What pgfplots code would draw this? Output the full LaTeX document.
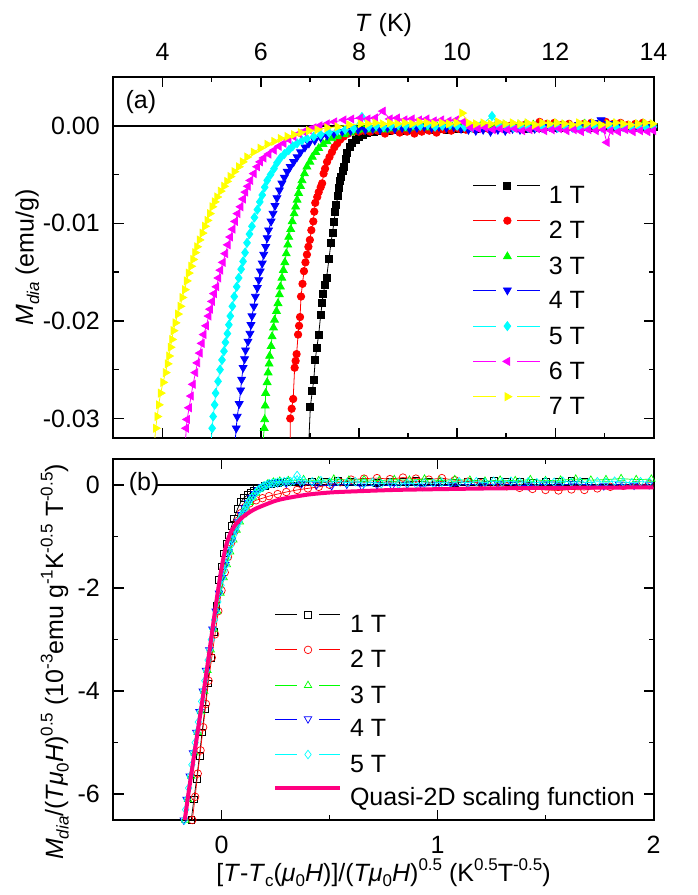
\documentclass[border=0pt]{standalone}
\usepackage{fontspec}
\setmainfont{Liberation Sans}
\usepackage{pgfplots}
\pgfplotsset{compat=1.18}
\definecolor{qpink}{RGB}{255,0,128}
\definecolor{cR}{RGB}{255,0,0}
\definecolor{cG}{RGB}{0,255,0}
\definecolor{cB}{RGB}{0,0,255}
\definecolor{cC}{RGB}{0,255,255}
\definecolor{cM}{RGB}{255,0,255}
\definecolor{cY}{RGB}{255,255,0}
\newcommand{\fs}{\fontsize{25}{29}\selectfont}
\newcommand{\sbs}[1]{\raisebox{-0.22em}{\fontsize{17}{17}\selectfont #1}}
\newcommand{\sps}[1]{\raisebox{0.42em}{\fontsize{17}{17}\selectfont #1}}
\pgfplotsset{
  myax/.style={scale only axis, width=540pt, height=361pt, anchor=south west,
    axis line style={line width=2pt},
    every tick/.style={black, line width=1.6pt},
    major tick length=10pt, minor tick length=5pt, tick align=inside,
    tick label style={font=\fs, inner sep=0pt},
    label style={font=\fs},
    scaled x ticks=false, scaled y ticks=false,
    legend cell align=left,
    clip mode=individual,
  }
}
\begin{document}
\begin{tikzpicture}
\path[use as bounding box] (0pt,0pt) rectangle (697pt,895pt);
%================ panel (a) =================
\begin{axis}[myax, at={(113.5pt,457pt)},
  xmin=3, xmax=14, ymin=-0.032, ymax=0.005,
  xtick={4,6,8,10,12,14}, xticklabels={4,6,8,10,12,14},
  minor xtick={3,5,7,9,11,13},
  ytick={-0.03,-0.02,-0.01,0}, yticklabels={-0.03,-0.02,-0.01,0.00},
  minor ytick={-0.025,-0.015,-0.005},
  xticklabel pos=upper,
  xticklabel style={anchor=base, yshift=16pt},
  yticklabel style={anchor=east, xshift=-13.5pt},
  xlabel={\textit{T} (K)},
  xlabel style={at={(axis description cs:0.5,1.1274)}, anchor=base},
  ylabel={\textit{M}\sbs{\textit{dia}} (emu/g)},
  ylabel style={at={(axis description cs:-0.148,0.5)}, anchor=base},
  legend style={at={(0.6657,0.709)}, anchor=north west, draw=none, fill=none,
    inner sep=0pt, outer sep=0pt, font=\fs, row sep=13.4pt, column sep=8pt,
    nodes={inner sep=0pt, text height=18pt, text depth=0pt}},
  legend image code/.code={%
    \draw[#1,mark=none] (0pt,9pt) -- (23pt,9pt);
    \draw[#1,mark=none] (44pt,9pt) -- (67pt,9pt);
    \draw[#1] plot coordinates {(34pt,9pt)};},
]
\addplot[black, line width=1.5pt, forget plot] coordinates {(3,0) (14,0)};
\addplot[black, line width=0.8pt, mark=square*, mark size=3.5pt, mark options={solid}] coordinates {
(6.98,-0.0322) (7.01,-0.0288) (7.05,-0.0272) (7.08,-0.026) (7.11,-0.024) (7.14,-0.0228) (7.18,-0.0214) (7.22,-0.0194) (7.25,-0.0182) (7.27,-0.0172) (7.31,-0.0163) (7.34,-0.0156) (7.39,-0.0136) (7.43,-0.012) (7.46,-0.011) (7.49,-0.0099) (7.52,-0.0088) (7.54,-0.0081) (7.57,-0.0072) (7.59,-0.0064) (7.62,-0.0057) (7.64,-0.0052) (7.67,-0.0046) (7.69,-0.0042) (7.73,-0.0034) (7.76,-0.0028) (7.81,-0.0022) (7.86,-0.0018) (7.93,-0.0014) (8.0,-0.0011) (8.08,-0.0009) (8.17,-0.0007) (8.3,-0.0006) (8.45,-0.0005) (8.6,-0.0005) (8.75,-0.0004) (8.9,-0.0005) (9.05,-0.0004) (9.2,-0.0004) (9.35,-0.0003) (9.5,-0.0004) (9.65,-0.0003) (9.8,-0.0004) (9.95,-0.0003) (10.1,-0.0003) (10.25,-0.0002) (10.4,-0.0003) (10.55,-0.0002) (10.7,-0.0003) (10.85,-0.0002) (11.0,-0.0003) (11.15,-0.0002) (11.3,-0.0002) (11.45,-0.0003) (11.6,-0.0002) (11.75,-0.0002) (11.9,-0.0001) (12.05,-0.0002) (12.2,-0.0002) (12.35,-0.0001) (12.5,-0.0002) (12.65,-0.0001) (12.8,-0.0002) (12.95,-0.0001) (13.1,-0.0001) (13.25,-0.0002) (13.4,-0.0001) (13.55,-0.0001) (13.7,-0.0002) (13.85,-0.0001) (14.0,-0.0001)};
\addlegendentry{1 T}
\addplot[cR, line width=0.8pt, mark=*, mark size=3.7pt, mark options={solid}] coordinates {
(6.60,-0.0322) (6.60,-0.030) (6.63,-0.029) (6.66,-0.028) (6.69,-0.0248) (6.71,-0.0241) (6.73,-0.0234) (6.76,-0.0214) (6.78,-0.0205) (6.80,-0.0196) (6.82,-0.0175) (6.85,-0.0162) (6.88,-0.0149) (6.91,-0.014) (6.94,-0.0132) (6.97,-0.0124) (7.00,-0.0117) (7.03,-0.0107) (7.07,-0.0098) (7.09,-0.0088) (7.11,-0.0079) (7.15,-0.0073) (7.18,-0.0068) (7.22,-0.0063) (7.25,-0.0059) (7.28,-0.0049) (7.31,-0.0044) (7.35,-0.0037) (7.40,-0.0032) (7.45,-0.0027) (7.50,-0.0022) (7.56,-0.0018) (7.62,-0.0014) (7.69,-0.0011) (7.78,-0.0008) (7.89,-0.0006) (8.0,-0.0006) (8.1,-0.0005) (8.23,-0.0006) (8.38,-0.0005) (8.53,-0.0008) (8.68,-0.0005) (8.83,-0.0007) (8.98,-0.0006) (9.13,-0.0008) (9.28,-0.0006) (9.43,-0.0005) (9.58,-0.0007) (9.73,-0.0004) (9.88,-0.0005) (10.03,-0.0003) (10.18,-0.0004) (10.33,-0.0003) (10.48,-0.0002) (10.63,-0.0003) (10.78,-0.0001) (10.93,-0.0002) (11.08,0.0) (11.23,-0.0001) (11.38,0.0001) (11.53,0.0) (11.68,0.0004) (11.83,0.0002) (11.98,0.0003) (12.13,0.0001) (12.28,0.0002) (12.43,0.0) (12.58,0.0002) (12.73,0.0003) (12.88,0.0001) (13.03,0.0004) (13.18,0.0002) (13.33,0.0003) (13.48,0.0001) (13.63,0.0002) (13.78,0.0003) (13.93,0.0001)};
\addlegendentry{2 T}
\addplot[cG, line width=0.8pt, mark=triangle*, mark size=4.5pt, mark options={solid}] coordinates {
(6.05,-0.0322) (6.07,-0.0310) (6.08,-0.0301) (6.09,-0.0287) (6.10,-0.0274) (6.13,-0.0263) (6.15,-0.0253) (6.17,-0.0244) (6.18,-0.0236) (6.21,-0.0226) (6.23,-0.0216) (6.26,-0.0207) (6.28,-0.0199) (6.32,-0.019) (6.35,-0.0182) (6.38,-0.0173) (6.40,-0.0165) (6.43,-0.0156) (6.46,-0.0148) (6.49,-0.014) (6.52,-0.0131) (6.55,-0.0122) (6.57,-0.0114) (6.61,-0.0106) (6.64,-0.0098) (6.68,-0.009) (6.71,-0.0083) (6.74,-0.0076) (6.77,-0.0069) (6.81,-0.0062) (6.84,-0.0056) (6.89,-0.0049) (6.94,-0.0042) (7.0,-0.0037) (7.05,-0.0032) (7.12,-0.0027) (7.18,-0.0023) (7.27,-0.0019) (7.35,-0.0016) (7.45,-0.0013) (7.56,-0.0011) (7.7,-0.0009) (7.83,-0.0007) (7.96,-0.0005) (8.1,-0.0004) (8.25,-0.0004) (8.4,-0.0003) (8.55,-0.0004) (8.7,-0.0003) (8.85,-0.0002) (9.0,-0.0003) (9.15,-0.0002) (9.3,-0.0001) (9.45,-0.0002) (9.6,-0.0001) (9.75,0.0) (9.9,-0.0001) (10.05,0.0) (10.2,0.0001) (10.35,0.0) (10.5,0.0001) (10.65,0.0) (10.8,0.0002) (10.95,0.0001) (11.1,0.0) (11.25,0.0001) (11.4,0.0002) (11.55,0.0001) (11.7,0.0) (11.85,0.0001) (12.0,0.0002) (12.15,0.0001) (12.3,0.0) (12.45,0.0001) (12.6,0.0002) (12.75,0.0001) (12.9,0.0) (13.05,0.0001) (13.2,0.0002) (13.35,0.0001) (13.5,0.0) (13.65,0.0001) (13.8,0.0002) (13.95,0.0001)};
\addlegendentry{3 T}
\addplot[cB, line width=0.8pt, mark=triangle*, mark size=4.5pt, mark options={solid, rotate=180}] coordinates {
(5.48,-0.0322) (5.50,-0.031) (5.52,-0.0298) (5.56,-0.0285) (5.59,-0.0271) (5.61,-0.026) (5.64,-0.0248) (5.67,-0.0239) (5.69,-0.023) (5.74,-0.0221) (5.78,-0.0213) (5.80,-0.0204) (5.82,-0.0195) (5.86,-0.0185) (5.89,-0.0175) (5.93,-0.0166) (5.96,-0.0158) (5.99,-0.0149) (6.03,-0.0141) (6.06,-0.0132) (6.10,-0.0124) (6.13,-0.0115) (6.16,-0.0107) (6.21,-0.0098) (6.25,-0.009) (6.29,-0.0082) (6.33,-0.0074) (6.38,-0.0066) (6.43,-0.0059) (6.48,-0.0053) (6.54,-0.0047) (6.6,-0.0042) (6.67,-0.0037) (6.74,-0.0032) (6.81,-0.0027) (6.9,-0.0022) (6.98,-0.0018) (7.1,-0.0015) (7.22,-0.0012) (7.35,-0.001) (7.49,-0.0008) (7.66,-0.0006) (7.83,-0.0005) (7.98,-0.0004) (8.13,-0.0004) (8.28,-0.0003) (8.43,-0.0004) (8.58,-0.0002) (8.73,-0.0003) (8.88,-0.0002) (9.03,-0.0003) (9.18,-0.0002) (9.33,-0.0001) (9.48,-0.0002) (9.63,-0.0001) (9.78,-0.0002) (9.93,-0.0001) (10.08,-0.0003) (10.23,-0.0004) (10.38,-0.0005) (10.53,-0.0004) (10.68,-0.0006) (10.83,-0.0004) (10.98,-0.0005) (11.13,-0.0003) (11.28,-0.0004) (11.43,-0.0002) (11.58,-0.0003) (11.73,-0.0002) (11.88,-0.0001) (12.03,-0.0002) (12.18,0.0) (12.33,-0.0001) (12.48,0.0001) (12.63,0.0) (12.78,0.0003) (12.93,0.0006) (13.08,0.0002) (13.23,0.0) (13.38,-0.0001) (13.53,0.0) (13.68,-0.0001) (13.83,0.0) (13.98,-0.0001)};
\addlegendentry{4 T}
\addplot[cC, line width=0.8pt, mark=diamond*, mark size=4.5pt, mark options={solid}] coordinates {
(4.99,-0.0322) (5.01,-0.031) (5.03,-0.0298) (5.06,-0.0286) (5.08,-0.0274) (5.13,-0.0262) (5.17,-0.025) (5.21,-0.024) (5.25,-0.0231) (5.28,-0.0222) (5.32,-0.0213) (5.35,-0.0204) (5.38,-0.0195) (5.42,-0.0185) (5.46,-0.0175) (5.51,-0.0165) (5.55,-0.0156) (5.6,-0.0147) (5.64,-0.0139) (5.68,-0.013) (5.72,-0.012) (5.77,-0.0111) (5.82,-0.0103) (5.87,-0.0094) (5.93,-0.0086) (5.98,-0.0078) (6.03,-0.0071) (6.08,-0.0063) (6.13,-0.0056) (6.2,-0.005) (6.27,-0.0044) (6.33,-0.0038) (6.4,-0.0033) (6.48,-0.0029) (6.57,-0.0025) (6.65,-0.0021) (6.74,-0.0018) (6.84,-0.0015) (6.94,-0.0013) (7.08,-0.0011) (7.22,-0.0009) (7.39,-0.0007) (7.56,-0.0005) (7.72,-0.0004) (7.89,-0.0003) (8.06,0.0009) (8.2,-0.0001) (8.35,0.0) (8.5,-0.0001) (8.65,0.0) (8.8,0.0001) (8.95,0.0) (9.1,0.0001) (9.25,0.0) (9.4,0.0001) (9.55,-0.0001) (9.7,0.0) (9.85,0.0001) (10.0,0.0) (10.15,-0.0001) (10.3,-0.0002) (10.45,-0.0001) (10.71,0.001) (10.85,0.0) (11.0,-0.0001) (11.15,-0.0002) (11.3,-0.0001) (11.45,-0.0002) (11.6,-0.0001) (11.75,-0.0002) (11.9,-0.0001) (12.05,-0.0002) (12.2,-0.0001) (12.35,-0.0002) (12.5,-0.0003) (12.65,-0.0002) (12.8,-0.0001) (12.95,-0.0002) (13.1,-0.0001) (13.25,-0.0002) (13.4,-0.0001) (13.55,-0.0002) (13.7,-0.0001) (13.85,-0.0002) (14.0,-0.0001)};
\addlegendentry{5 T}
\addplot[cM, line width=0.8pt, mark=triangle*, mark size=4.5pt, mark options={solid, rotate=90}] coordinates {
(4.47,-0.0322) (4.48,-0.031) (4.50,-0.0301) (4.54,-0.0289) (4.58,-0.0277) (4.62,-0.0265) (4.67,-0.0253) (4.71,-0.0243) (4.76,-0.0233) (4.80,-0.0223) (4.84,-0.0214) (4.89,-0.0205) (4.94,-0.0195) (4.97,-0.0188) (5.01,-0.018) (5.05,-0.0172) (5.10,-0.0165) (5.14,-0.0156) (5.18,-0.0148) (5.23,-0.014) (5.28,-0.0131) (5.33,-0.0122) (5.38,-0.0114) (5.43,-0.0106) (5.48,-0.0098) (5.53,-0.009) (5.59,-0.0083) (5.64,-0.0075) (5.69,-0.0068) (5.74,-0.0062) (5.79,-0.0056) (5.86,-0.0049) (5.93,-0.0042) (5.99,-0.0037) (6.06,-0.0033) (6.16,-0.0029) (6.27,-0.0025) (6.37,-0.0021) (6.47,-0.0018) (6.57,-0.0014) (6.67,-0.0011) (6.78,-0.0008) (6.88,-0.0006) (6.98,-0.0004) (7.08,-0.0002) (7.2,0.0) (7.35,0.0002) (7.5,0.0004) (7.69,0.0006) (7.85,0.0007) (8.03,0.0008) (8.18,0.0007) (8.33,0.0008) (8.49,0.0015) (8.63,0.0007) (8.78,0.0008) (8.93,0.0006) (9.08,0.0007) (9.23,0.0006) (9.38,0.0007) (9.53,0.0005) (9.68,0.0006) (9.83,0.0005) (9.98,0.0006) (10.13,0.0004) (10.28,-0.0002) (10.43,-0.0003) (10.58,-0.0002) (10.73,-0.0004) (10.88,-0.0003) (11.03,-0.0004) (11.18,-0.0003) (11.33,-0.0005) (11.48,-0.0004) (11.63,-0.0003) (11.78,-0.0005) (11.93,-0.0004) (12.08,-0.0003) (12.23,-0.0005) (12.38,-0.0004) (12.53,-0.0006) (12.68,-0.0004) (12.83,-0.0005) (12.98,-0.0004) (13.05,-0.0017) (13.13,-0.0005) (13.28,-0.0006) (13.43,-0.0004) (13.58,-0.0006) (13.73,-0.0005) (13.88,-0.0006) (14.0,-0.0005)};
\addlegendentry{6 T}
\addplot[cY, line width=0.8pt, mark=triangle*, mark size=4.5pt, mark options={solid, rotate=-90}] coordinates {
(3.84,-0.0322) (3.86,-0.031) (3.89,-0.0298) (3.92,-0.0286) (3.96,-0.0274) (4.01,-0.0263) (4.06,-0.0253) (4.10,-0.0244) (4.13,-0.0236) (4.16,-0.0227) (4.19,-0.0219) (4.22,-0.021) (4.26,-0.0202) (4.31,-0.0193) (4.36,-0.0185) (4.40,-0.0176) (4.45,-0.0168) (4.49,-0.0159) (4.53,-0.0151) (4.58,-0.0144) (4.62,-0.0137) (4.66,-0.013) (4.70,-0.0124) (4.75,-0.0117) (4.81,-0.011) (4.86,-0.0103) (4.91,-0.0097) (4.96,-0.009) (5.01,-0.0083) (5.06,-0.0078) (5.11,-0.0073) (5.18,-0.0067) (5.25,-0.0062) (5.31,-0.0057) (5.38,-0.0052) (5.46,-0.0047) (5.55,-0.0042) (5.63,-0.0037) (5.72,-0.0032) (5.85,-0.0027) (5.99,-0.0023) (6.13,-0.0019) (6.27,-0.0016) (6.4,-0.0013) (6.54,-0.0011) (6.67,-0.0009) (6.81,-0.0007) (6.98,-0.0005) (7.15,-0.0004) (7.35,-0.0002) (7.56,-0.0001) (7.8,0.0001) (8.03,0.0002) (8.18,0.0002) (8.33,0.0003) (8.48,0.0002) (8.63,0.0003) (8.78,0.0002) (8.93,0.0003) (9.08,0.0002) (9.23,0.0004) (9.38,0.0003) (9.53,0.0002) (9.68,0.0003) (9.83,0.0002) (9.98,0.0003) (10.1,0.0013) (10.23,0.0003) (10.38,0.0002) (10.53,0.0003) (10.68,0.0002) (10.83,0.0004) (10.98,0.0002) (11.13,0.0003) (11.28,0.0002) (11.43,0.0003) (11.58,0.0001) (11.73,0.0003) (11.88,0.0002) (12.03,0.0003) (12.18,0.0002) (12.33,0.0001) (12.48,0.0003) (12.63,0.0002) (12.78,0.0003) (12.93,0.0001) (13.08,0.0002) (13.23,0.0003) (13.38,0.0002) (13.53,0.0001) (13.68,0.0002) (13.83,0.0003) (13.98,0.0002)};
\addlegendentry{7 T}
\node[font=\fs, anchor=west, inner sep=0pt] at (rel axis cs:0.022,0.931) {(a)};
\end{axis}
%================ panel (b) =================
\begin{axis}[myax, at={(113.5pt,75pt)},
  xmin=-0.5, xmax=2, ymin=-6.5, ymax=0.5,
  xtick={0,1,2}, xticklabels={0,1,2}, minor xtick={-0.5,0.5,1.5},
  ytick={-6,-4,-2,0}, yticklabels={-6,-4,-2,0}, minor ytick={-5,-3,-1},
  xticklabel style={anchor=base, yshift=-33pt},
  yticklabel style={anchor=east, xshift=-13.5pt},
  xlabel={[\textit{T}-\textit{T}\sbs{c}(\textit{μ}\sbs{0}\textit{H})]/(\textit{Tμ}\sbs{0}\textit{H})\sps{0.5} (K\sps{0.5}T\sps{-0.5})},
  xlabel style={at={(axis description cs:0.5,-0.169)}, anchor=base},
  ylabel={\textit{M}\sbs{\textit{dia}}/(\textit{Tμ}\sbs{0}\textit{H})\sps{0.5} (10\sps{-3}emu g\sps{-1}K\sps{-0.5} T\sps{-0.5})},
  ylabel style={at={(axis description cs:-0.0935,0.4377)}, anchor=base},
  legend style={at={(0.2954,0.578)}, anchor=north west, draw=none, fill=none,
    inner sep=0pt, outer sep=0pt, font=\fs, row sep=13.3pt, column sep=8pt,
    nodes={inner sep=0pt, text height=18pt, text depth=0pt}},
  legend image code/.code={%
    \draw[#1,mark=none] (0pt,9pt) -- (22pt,9pt);
    \draw[#1,mark=none] (44pt,9pt) -- (65pt,9pt);
    \draw[#1] plot coordinates {(33pt,9pt)};},
]
\addplot[black, line width=1.5pt, forget plot] coordinates {(-0.3,0) (2,0)};
\addplot[black, line width=0.7pt, mark=square, mark size=3.4pt, mark options={solid}] coordinates {
(-0.14,-6.5) (-0.128,-6.1) (-0.115,-5.7) (-0.102,-5.25) (-0.09,-4.8) (-0.077,-4.35) (-0.064,-3.85) (-0.05,-3.35) (-0.037,-2.85) (-0.024,-2.35) (-0.012,-1.85) (0.0,-1.58) (0.012,-1.33) (0.024,-1.15) (0.035,-0.98) (0.047,-0.8) (0.058,-0.65) (0.075,-0.46) (0.09,-0.33) (0.105,-0.25) (0.12,-0.2) (0.135,-0.16) (0.15,-0.12) (0.165,-0.08) (0.18,-0.05) (0.2,-0.02) (0.228,0.02) (0.26,0.04) (0.3,0.05) (0.36,0.04) (0.42,0.06) (0.48,0.05) (0.54,0.07) (0.6,0.05) (0.66,0.06) (0.72,0.04) (0.78,0.06) (0.84,0.05) (0.9,0.07) (0.96,0.05) (1.02,0.06) (1.08,0.04) (1.14,0.06) (1.2,0.05) (1.26,0.07) (1.32,0.05) (1.38,0.06) (1.44,0.04) (1.5,0.06) (1.56,0.05) (1.62,0.07) (1.68,0.05)};
\addlegendentry{1 T}
\addplot[cR, line width=0.7pt, mark=o, mark size=3.8pt, mark options={solid}] coordinates {
(-0.135,-6.5) (-0.122,-6.05) (-0.11,-5.6) (-0.097,-5.15) (-0.085,-4.7) (-0.072,-4.25) (-0.06,-3.8) (-0.045,-3.35) (-0.03,-2.9) (-0.015,-2.45) (0.0,-2.05) (0.015,-1.7) (0.03,-1.4) (0.045,-1.12) (0.06,-0.9) (0.075,-0.7) (0.09,-0.55) (0.11,-0.43) (0.13,-0.36) (0.16,-0.3) (0.19,-0.26) (0.22,-0.22) (0.26,-0.18) (0.3,-0.14) (0.35,-0.1) (0.4,-0.07) (0.45,-0.04) (0.5,0.0) (0.55,0.05) (0.6,0.1) (0.66,0.12) (0.72,0.13) (0.78,0.11) (0.84,0.14) (0.9,0.12) (0.96,0.1) (1.02,0.13) (1.08,0.09) (1.14,0.06) (1.2,0.03) (1.26,0.0) (1.32,-0.03) (1.38,-0.06) (1.44,-0.08) (1.5,-0.1) (1.56,-0.11) (1.62,-0.09) (1.68,-0.1) (1.74,-0.07) (1.8,-0.04) (1.86,-0.02) (1.92,0.0) (1.98,0.02)};
\addlegendentry{2 T}
\addplot[cG, line width=0.7pt, mark=triangle, mark size=4.3pt, mark options={solid}] coordinates {
(-0.168,-6.5) (-0.155,-6.1) (-0.14,-5.65) (-0.125,-5.2) (-0.11,-4.8) (-0.095,-4.4) (-0.08,-4.0) (-0.065,-3.6) (-0.05,-3.2) (-0.035,-2.8) (-0.02,-2.45) (-0.005,-2.1) (0.01,-1.8) (0.025,-1.55) (0.04,-1.3) (0.055,-1.07) (0.07,-0.88) (0.085,-0.72) (0.1,-0.58) (0.115,-0.45) (0.13,-0.34) (0.145,-0.24) (0.16,-0.16) (0.175,-0.09) (0.195,-0.03) (0.215,0.02) (0.24,0.05) (0.27,0.07) (0.31,0.08) (0.38,0.1) (0.45,0.08) (0.52,0.11) (0.59,0.09) (0.66,0.1) (0.73,0.08) (0.8,0.1) (0.87,0.09) (0.94,0.11) (1.01,0.08) (1.08,0.1) (1.15,0.09) (1.22,0.07) (1.29,0.09) (1.36,0.08) (1.43,0.1) (1.5,0.08) (1.57,0.09) (1.64,0.11) (1.71,0.09) (1.78,0.1) (1.85,0.12) (1.92,0.1) (1.99,0.11)};
\addlegendentry{3 T}
\addplot[cB, line width=0.7pt, mark=triangle, mark size=4.3pt, mark options={solid, rotate=180}] coordinates {
(-0.175,-6.5) (-0.162,-6.1) (-0.147,-5.65) (-0.132,-5.2) (-0.117,-4.8) (-0.102,-4.4) (-0.087,-4.0) (-0.072,-3.6) (-0.057,-3.2) (-0.042,-2.8) (-0.027,-2.45) (-0.012,-2.1) (0.003,-1.8) (0.018,-1.55) (0.033,-1.3) (0.048,-1.07) (0.063,-0.88) (0.078,-0.72) (0.093,-0.58) (0.108,-0.45) (0.123,-0.34) (0.138,-0.25) (0.153,-0.17) (0.168,-0.1) (0.188,-0.04) (0.208,0.0) (0.233,0.03) (0.26,0.04) (0.3,0.03) (0.37,0.02) (0.44,0.0) (0.51,-0.02) (0.58,0.01) (0.65,-0.03) (0.72,0.0) (0.79,-0.02) (0.86,0.01) (0.93,-0.03) (1.0,0.0) (1.07,-0.02) (1.14,0.01) (1.21,-0.01) (1.28,0.02) (1.35,0.0) (1.42,-0.02) (1.49,0.01) (1.56,-0.01) (1.63,0.02) (1.7,0.0) (1.77,-0.02) (1.84,0.01) (1.91,-0.01) (1.98,0.0)};
\addlegendentry{4 T}
\addplot[cC, line width=0.7pt, mark=diamond, mark size=4.3pt, mark options={solid}] coordinates {
(-0.172,-6.5) (-0.166,-6.3) (-0.16,-6.1) (-0.152,-5.88) (-0.145,-5.65) (-0.137,-5.43) (-0.13,-5.2) (-0.122,-5.0) (-0.115,-4.8) (-0.107,-4.6) (-0.1,-4.4) (-0.092,-4.2) (-0.085,-4.0) (-0.077,-3.8) (-0.07,-3.6) (-0.062,-3.4) (-0.055,-3.2) (-0.047,-3.0) (-0.04,-2.8) (-0.032,-2.62) (-0.025,-2.45) (-0.017,-2.27) (-0.01,-2.1) (-0.002,-1.95) (0.005,-1.8) (0.012,-1.67) (0.02,-1.55) (0.027,-1.42) (0.035,-1.3) (0.042,-1.18) (0.05,-1.07) (0.057,-0.97) (0.065,-0.88) (0.072,-0.8) (0.08,-0.72) (0.087,-0.65) (0.095,-0.58) (0.102,-0.51) (0.11,-0.45) (0.117,-0.39) (0.125,-0.34) (0.132,-0.29) (0.14,-0.25) (0.147,-0.21) (0.155,-0.17) (0.162,-0.13) (0.17,-0.1) (0.18,-0.07) (0.19,-0.04) (0.2,-0.02) (0.21,0.0) (0.222,0.02) (0.235,0.03) (0.248,0.04) (0.26,0.05) (0.275,0.05) (0.29,0.06) (0.305,0.07) (0.32,0.06) (0.335,0.08) (0.35,0.18) (0.365,0.07) (0.38,0.08) (0.42,0.06) (0.46,0.08) (0.5,0.05) (0.54,0.07) (0.58,0.04) (0.62,0.06) (0.66,0.03) (0.7,0.05) (0.74,0.02) (0.78,0.04) (0.82,0.01) (0.86,0.03) (0.9,0.02) (0.94,0.04) (0.98,0.03) (1.02,0.05) (1.06,0.03) (1.1,0.06) (1.14,0.04) (1.18,0.06) (1.22,0.04) (1.26,0.07) (1.3,0.05) (1.34,0.07) (1.38,0.05) (1.42,0.06) (1.46,0.04) (1.5,0.06) (1.54,0.05) (1.58,0.07) (1.62,0.05) (1.66,0.06) (1.7,0.04) (1.74,0.06) (1.78,0.05) (1.82,0.07) (1.86,0.05) (1.9,0.04) (1.94,0.06) (1.98,0.05)};
\addlegendentry{5 T}
\addplot[qpink, line width=4pt, smooth, mark=none,
  legend image code/.code={\draw[qpink, line width=4pt] (0pt,9pt) -- (65pt,9pt);}] coordinates {
(-0.17,-6.5) (-0.15,-5.9) (-0.125,-5.2) (-0.1,-4.5) (-0.075,-3.8) (-0.05,-3.05) (-0.025,-2.3) (0,-1.62) (0.02,-1.2) (0.04,-0.95) (0.06,-0.8) (0.08,-0.7) (0.1,-0.62) (0.13,-0.53) (0.16,-0.46) (0.2,-0.39) (0.25,-0.31) (0.3,-0.26) (0.4,-0.19) (0.5,-0.15) (0.6,-0.13) (0.8,-0.10) (1.0,-0.085) (1.25,-0.07) (1.5,-0.06) (1.75,-0.055) (2.0,-0.05)};
\addlegendentry{Quasi-2D scaling function}
\node[font=\fs, anchor=west, inner sep=0pt] at (rel axis cs:0.028,0.931) {(b)};
\end{axis}
\end{tikzpicture}
\end{document}
